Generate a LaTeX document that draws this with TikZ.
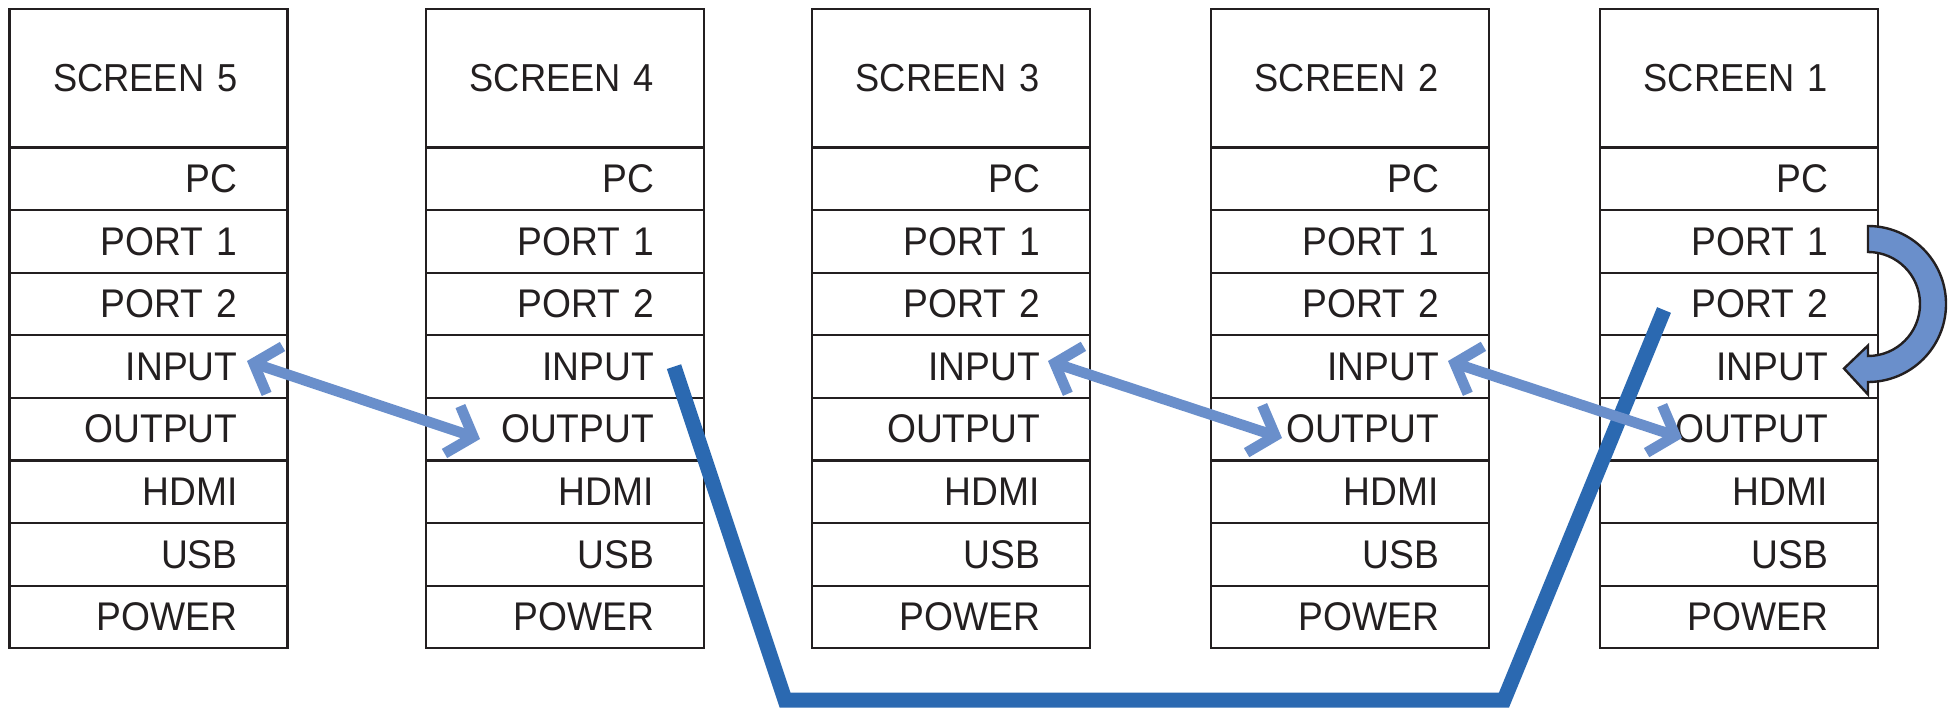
\documentclass[tikz,border=0pt]{standalone}
\usepackage{fontspec}
\setmainfont{Liberation Sans}[FakeStretch=0.93]
\usetikzlibrary{arrows.meta,calc}
\definecolor{lightblue}{HTML}{6A8FCB}
\definecolor{darkblue}{HTML}{2B69B1}
\definecolor{ink}{HTML}{231F20}
\newcommand\drawscreen[3]{%
  \node[hdr,anchor=north west] (#1h) at (#2,699) {\makebox[89pt][r]{\raisebox{-1.5pt}{SCREEN #3}}};
  \node[rowc,anchor=north] (#1pc) at (#1h.south) {PC};
  \node[rowc,anchor=north] (#1pa) at (#1pc.south) {PORT 1};
  \node[rowc,anchor=north] (#1pb) at (#1pa.south) {PORT 2};
  \node[rowc,anchor=north] (#1in) at (#1pb.south) {INPUT};
  \node[rowc,anchor=north] (#1out) at (#1in.south) {OUTPUT};
  \node[rowc,anchor=north] (#1hd) at (#1out.south) {HDMI};
  \node[rowc,anchor=north] (#1usb) at (#1hd.south) {USB};
  \node[rowc,anchor=north] (#1pw) at (#1usb.south) {POWER};
}
\begin{document}
\begin{tikzpicture}[x=0.5pt,y=0.5pt,
  cell/.style={draw=ink, line width=1.1pt, outer sep=0pt, minimum width=139pt,
    text width=89pt, inner xsep=25pt, inner ysep=0pt, align=right,
    font=\fontsize{20}{23}\selectfont, text=ink},
  hdr/.style={cell, minimum height=69.25pt, font=\fontsize{19.5}{23}\selectfont},
  rowc/.style={cell, minimum height=31.3pt},
  lightarr/.style={draw=lightblue, line width=5.3pt,
    {Straight Barb[sharp,length=11pt,width=25pt]}-{Straight Barb[sharp,length=11pt,width=25pt]}},
  darkline/.style={draw=darkblue, line width=7.5pt, line cap=butt, line join=miter},
  bendarr/.style={fill=lightblue, draw=ink, line width=1.2pt, line join=miter}]
\useasboundingbox (0,0) rectangle (1953,708);
\drawscreen{s5}{9.5}{5}
\drawscreen{s4}{426}{4}
\drawscreen{s3}{812}{3}
\drawscreen{s2}{1211}{2}
\drawscreen{s1}{1600}{1}
% dark connector
\coordinate (b1) at (785,8);
\coordinate (b2) at (1504,8);
\draw[darkline] ([xshift=-15pt]s4in.east) -- (b1) -- (b2) -- ([xshift=32pt,yshift=-3pt]s1pb.west);
% light double arrows
\draw[lightarr] ([xshift=-20.25pt,yshift=2.8pt]s5in.east) -- ([xshift=27pt,yshift=-4.9pt]s4out.west);
\draw[lightarr] ([xshift=-21pt,yshift=2.8pt]s3in.east) -- ([xshift=35.5pt,yshift=-4.4pt]s2out.west);
\draw[lightarr] ([xshift=-20.5pt,yshift=2.8pt]s2in.east) -- ([xshift=41pt,yshift=-4.4pt]s1out.west);
% bent arrow PORT 1 -> INPUT on screen 1
\coordinate (cc) at ([xshift=-5pt]s1pb.east);
\filldraw[bendarr]
  ([yshift=39pt]cc) arc[start angle=90,end angle=-90,radius=39pt]
  -- ([yshift=-45.25pt]cc) -- ([xshift=-12pt,yshift=-32.25pt]cc) -- ([yshift=-20.75pt]cc)
  -- ([yshift=-26pt]cc) arc[start angle=-90,end angle=90,radius=26pt] -- cycle;
\end{tikzpicture}
\end{document}
